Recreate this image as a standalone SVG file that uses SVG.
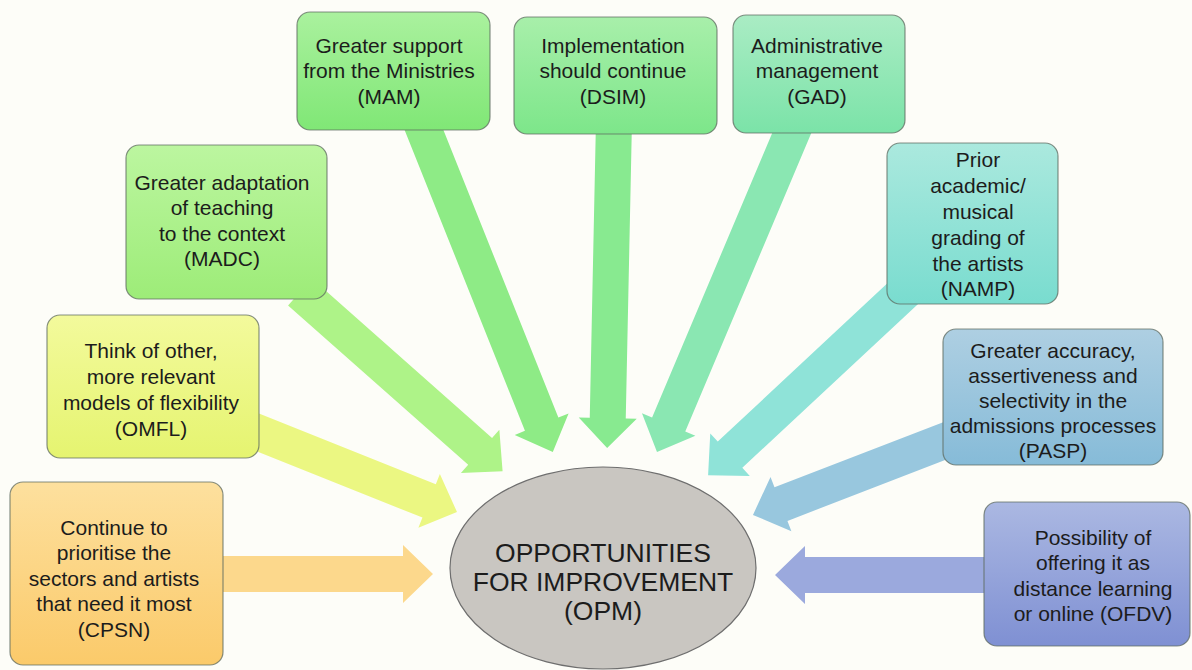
<svg xmlns="http://www.w3.org/2000/svg" width="1192" height="670" viewBox="0 0 1192 670">
<defs>
<style>
.box{stroke:#5f6b60;stroke-opacity:0.75;stroke-width:1.2}
.t{font-family:"Liberation Sans",Arial,sans-serif;font-size:21px;fill:#1c1c1c;text-anchor:middle}
.big{font-family:"Liberation Sans",Arial,sans-serif;font-size:26.5px;fill:#1c1c1c;text-anchor:middle}
</style>
<linearGradient id="gCPSN" x1="0" y1="0" x2="0" y2="1"><stop offset="0" stop-color="#fde09e"/><stop offset="1" stop-color="#fbca6a"/></linearGradient>
<linearGradient id="gOMFL" x1="0" y1="0" x2="0" y2="1"><stop offset="0" stop-color="#f3fa9c"/><stop offset="1" stop-color="#e5f470"/></linearGradient>
<linearGradient id="gMADC" x1="0" y1="0" x2="0" y2="1"><stop offset="0" stop-color="#bcf6a0"/><stop offset="1" stop-color="#9dec78"/></linearGradient>
<linearGradient id="gMAM" x1="0" y1="0" x2="0" y2="1"><stop offset="0" stop-color="#aaf19e"/><stop offset="1" stop-color="#80e776"/></linearGradient>
<linearGradient id="gDSIM" x1="0" y1="0" x2="0" y2="1"><stop offset="0" stop-color="#a8efaa"/><stop offset="1" stop-color="#7de68a"/></linearGradient>
<linearGradient id="gGAD" x1="0" y1="0" x2="0" y2="1"><stop offset="0" stop-color="#aaecc4"/><stop offset="1" stop-color="#7be3a8"/></linearGradient>
<linearGradient id="gNAMP" x1="0" y1="0" x2="0" y2="1"><stop offset="0" stop-color="#abe9de"/><stop offset="1" stop-color="#79dccf"/></linearGradient>
<linearGradient id="gPASP" x1="0" y1="0" x2="0" y2="1"><stop offset="0" stop-color="#aecfe2"/><stop offset="1" stop-color="#86bbd8"/></linearGradient>
<linearGradient id="gOFDV" x1="0" y1="0" x2="0" y2="1"><stop offset="0" stop-color="#abb8e2"/><stop offset="1" stop-color="#7f90d3"/></linearGradient>
</defs>
<rect x="0" y="0" width="1192" height="670" fill="#fdfdf8"/>

<g id="connectors">
<polygon fill="#fcd88c" transform="translate(200,574)" points="0,-18 203,-18 203,-29 233,0 203,29 203,18 0,18"/>
<polygon fill="#9ba9dd" transform="translate(1010,575) rotate(180)" points="0,-18 205,-18 205,-29 235,0 205,29 205,18 0,18"/>
<polygon fill="#ebf782" transform="translate(234,423) rotate(21.76)" points="0,-18 210.1,-18 210.1,-29 240.1,0 210.1,29 210.1,18 0,18"/>
<polygon fill="#aef388" transform="translate(300,292) rotate(41.5)" points="0,-18 240.5,-18 240.5,-29 270.5,0 240.5,29 240.5,18 0,18"/>
<polygon fill="#8eeb86" transform="translate(420,120) rotate(68.2)" points="0,-18 327.6,-18 327.6,-29 357.6,0 327.6,29 327.6,18 0,18"/>
<polygon fill="#88ea90" transform="translate(614,120) rotate(91.2)" points="0,-18 298.1,-18 298.1,-29 328.1,0 298.1,29 298.1,18 0,18"/>
<polygon fill="#8ae7b2" transform="translate(796,123) rotate(112.9)" points="0,-18 327.2,-18 327.2,-29 357.2,0 327.2,29 327.2,18 0,18"/>
<polygon fill="#8fe3d8" transform="translate(912,285) rotate(137)" points="0,-18 248.8,-18 248.8,-29 278.8,0 248.8,29 248.8,18 0,18"/>
<polygon fill="#98c7de" transform="translate(960,435) rotate(158.9)" points="0,-18 191.9,-18 191.9,-29 221.9,0 191.9,29 191.9,18 0,18"/>
</g>

<g id="OPM">
<ellipse cx="603" cy="568" rx="153" ry="101" fill="#c9c6c1" stroke="#6e6e6e" stroke-width="1.2"/>
<text class="big" x="603" y="562">OPPORTUNITIES</text>
<text class="big" x="603" y="591">FOR IMPROVEMENT</text>
<text class="big" x="603" y="620">(OPM)</text>
</g>

<g id="CPSN">
<rect class="box" x="10" y="482" width="213" height="183" rx="13" fill="url(#gCPSN)"/>
<text class="t" x="114" y="535">Continue to</text>
<text class="t" x="114" y="560">prioritise the</text>
<text class="t" x="114" y="586">sectors and artists</text>
<text class="t" x="114" y="611">that need it most</text>
<text class="t" x="114" y="637">(CPSN)</text>
</g>

<g id="OMFL">
<rect class="box" x="47" y="315" width="212" height="143" rx="13" fill="url(#gOMFL)"/>
<text class="t" x="151" y="358">Think of other,</text>
<text class="t" x="151" y="384">more relevant</text>
<text class="t" x="151" y="410">models of flexibility</text>
<text class="t" x="151" y="436">(OMFL)</text>
</g>

<g id="MADC">
<rect class="box" x="126" y="145" width="201" height="154" rx="13" fill="url(#gMADC)"/>
<text class="t" x="222" y="190">Greater adaptation</text>
<text class="t" x="222" y="215">of teaching</text>
<text class="t" x="222" y="241">to the context</text>
<text class="t" x="222" y="266">(MADC)</text>
</g>

<g id="MAM">
<rect class="box" x="297" y="12" width="193" height="118" rx="13" fill="url(#gMAM)"/>
<text class="t" x="389" y="53">Greater support</text>
<text class="t" x="389" y="78">from the Ministries</text>
<text class="t" x="389" y="104">(MAM)</text>
</g>

<g id="DSIM">
<rect class="box" x="514" y="17" width="203" height="117" rx="13" fill="url(#gDSIM)"/>
<text class="t" x="613" y="53">Implementation</text>
<text class="t" x="613" y="78">should continue</text>
<text class="t" x="613" y="104">(DSIM)</text>
</g>

<g id="GAD">
<rect class="box" x="733" y="15" width="172" height="118" rx="13" fill="url(#gGAD)"/>
<text class="t" x="817" y="53">Administrative</text>
<text class="t" x="817" y="78">management</text>
<text class="t" x="817" y="104">(GAD)</text>
</g>

<g id="NAMP">
<rect class="box" x="887" y="143" width="171" height="161" rx="13" fill="url(#gNAMP)"/>
<text class="t" x="978" y="167">Prior</text>
<text class="t" x="978" y="193">academic/</text>
<text class="t" x="978" y="219">musical</text>
<text class="t" x="978" y="245">grading of</text>
<text class="t" x="978" y="271">the artists</text>
<text class="t" x="978" y="296">(NAMP)</text>
</g>

<g id="PASP">
<rect class="box" x="943" y="329" width="220" height="136" rx="13" fill="url(#gPASP)"/>
<text class="t" x="1053" y="358">Greater accuracy,</text>
<text class="t" x="1053" y="383">assertiveness and</text>
<text class="t" x="1053" y="408">selectivity in the</text>
<text class="t" x="1053" y="433">admissions processes</text>
<text class="t" x="1053" y="458">(PASP)</text>
</g>

<g id="OFDV">
<rect class="box" x="984" y="502" width="206" height="144" rx="13" fill="url(#gOFDV)"/>
<text class="t" x="1093" y="545">Possibility of</text>
<text class="t" x="1093" y="570">offering it as</text>
<text class="t" x="1093" y="596">distance learning</text>
<text class="t" x="1093" y="621">or online (OFDV)</text>
</g>
</svg>
